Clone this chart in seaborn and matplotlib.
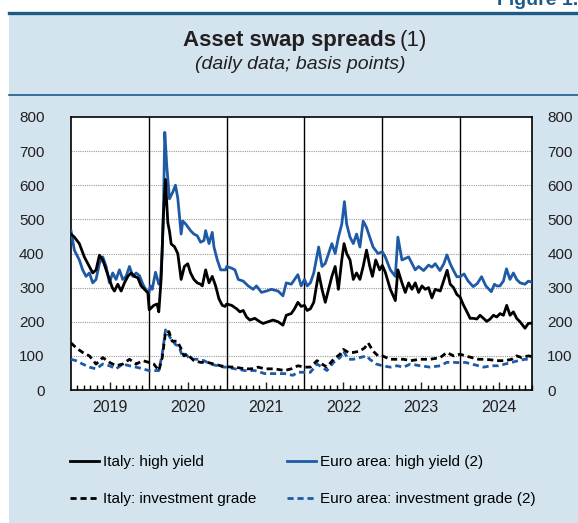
"""Asset swap spreads - Italy vs euro area"""
import matplotlib
matplotlib.use("Agg")
import pandas as pd
import matplotlib.pyplot as plt
import seaborn as sns
from matplotlib.lines import Line2D
from matplotlib.patches import Rectangle

# dates as decimal years, values in basis points
it_hy_t = [
    2019.000, 2019.043, 2019.107, 2019.171, 2019.236, 2019.279, 2019.322, 2019.365, 2019.408, 2019.451,
    2019.494, 2019.530, 2019.558, 2019.601, 2019.644, 2019.687, 2019.730, 2019.773, 2019.815, 2019.858,
    2019.901, 2019.944, 2019.987,
    2020.005, 2020.064, 2020.107, 2020.128, 2020.158, 2020.188, 2020.214, 2020.244, 2020.265, 2020.287,
    2020.329, 2020.372, 2020.415, 2020.457, 2020.500, 2020.536, 2020.579, 2020.622, 2020.665, 2020.687,
    2020.730, 2020.773, 2020.815, 2020.858, 2020.901, 2020.944, 2020.980,
    2021.000, 2021.064, 2021.128, 2021.170, 2021.213, 2021.255, 2021.298, 2021.362, 2021.426, 2021.468,
    2021.532, 2021.596, 2021.660, 2021.723, 2021.766, 2021.830, 2021.872, 2021.915, 2021.957,
    2022.000, 2022.034, 2022.076, 2022.119, 2022.182, 2022.225, 2022.267, 2022.309, 2022.352, 2022.394,
    2022.436, 2022.479, 2022.508, 2022.542, 2022.585, 2022.627, 2022.669, 2022.712, 2022.754, 2022.797,
    2022.839, 2022.873, 2022.915, 2022.966,
    2023.000, 2023.038, 2023.103, 2023.167, 2023.200, 2023.252, 2023.295, 2023.338, 2023.380, 2023.423,
    2023.466, 2023.509, 2023.551, 2023.594, 2023.637, 2023.679, 2023.744, 2023.790, 2023.833, 2023.872,
    2023.915, 2023.957,
    2024.000, 2024.040, 2024.085, 2024.128, 2024.171, 2024.214, 2024.256, 2024.299, 2024.342, 2024.385,
    2024.427, 2024.470, 2024.513, 2024.556, 2024.598, 2024.641, 2024.684, 2024.726, 2024.769, 2024.833,
    2024.876, 2024.920,
]
it_hy = [
    457, 448, 429, 390, 362, 343, 352, 395, 381, 352, 324, 300, 290, 310, 290, 314, 333, 343, 333, 329,
    305, 295, 285,
    235, 248, 252, 229, 325, 515, 617, 490, 466, 428, 420, 400, 324, 362, 370, 343, 324, 314, 310, 305,
    352, 314, 333, 305, 267, 248, 245,
    252, 248, 238, 229, 233, 214, 205, 210, 200, 195, 200, 205, 200, 190, 219, 224, 238, 257, 245,
    248, 233, 238, 257, 343, 295, 257, 295, 333, 362, 295, 381, 429, 400, 381, 324, 343, 324, 362, 410,
    362, 333, 381, 352,
    365, 345, 295, 262, 352, 314, 286, 314, 295, 314, 286, 305, 295, 300, 270, 295, 290, 322, 351, 310,
    300, 280,
    272, 250, 230, 210, 210, 208, 219, 210, 201, 208, 219, 214, 224, 219, 248, 219, 229, 210, 200, 181,
    195, 196,
]

ea_hy_t = [
    2019.000, 2019.043, 2019.107, 2019.150, 2019.193, 2019.236, 2019.279, 2019.322, 2019.365, 2019.408,
    2019.451, 2019.494, 2019.536, 2019.579, 2019.622, 2019.665, 2019.708, 2019.751, 2019.794, 2019.837,
    2019.880, 2019.923, 2019.966,
    2020.000, 2020.020, 2020.043, 2020.086, 2020.129, 2020.150, 2020.171, 2020.188, 2020.205, 2020.231,
    2020.265, 2020.308, 2020.342, 2020.372, 2020.415, 2020.436, 2020.479, 2020.536, 2020.579, 2020.622,
    2020.665, 2020.708, 2020.730, 2020.773, 2020.815, 2020.837, 2020.880, 2020.923, 2020.987,
    2021.000, 2021.064, 2021.106, 2021.149, 2021.213, 2021.277, 2021.340, 2021.383, 2021.447, 2021.511,
    2021.574, 2021.660, 2021.723, 2021.766, 2021.830, 2021.872, 2021.915, 2021.957,
    2022.000, 2022.034, 2022.076, 2022.119, 2022.182, 2022.225, 2022.267, 2022.309, 2022.352, 2022.394,
    2022.436, 2022.479, 2022.513, 2022.542, 2022.585, 2022.627, 2022.669, 2022.712, 2022.754, 2022.797,
    2022.839, 2022.881, 2022.945,
    2023.000, 2023.038, 2023.103, 2023.167, 2023.200, 2023.252, 2023.338, 2023.380, 2023.423, 2023.466,
    2023.530, 2023.594, 2023.637, 2023.680, 2023.740, 2023.790, 2023.830, 2023.872, 2023.915, 2023.957,
    2024.000, 2024.050, 2024.100, 2024.167, 2024.220, 2024.275, 2024.330, 2024.400, 2024.440, 2024.470,
    2024.510, 2024.555, 2024.595, 2024.640, 2024.684, 2024.726, 2024.770, 2024.833, 2024.876, 2024.920,
]
ea_hy = [
    467, 410, 381, 352, 333, 343, 314, 324, 371, 390, 362, 314, 343, 324, 352, 324, 333, 362, 333, 343,
    335, 310, 292,
    285, 305, 295, 345, 310, 320, 405, 530, 755, 655, 560, 580, 600, 562, 457, 495, 485, 467, 457, 452,
    433, 438, 467, 429, 462, 419, 381, 352, 352,
    362, 357, 352, 324, 319, 305, 295, 305, 286, 290, 295, 290, 276, 314, 310, 324, 338, 305,
    324, 305, 314, 343, 419, 362, 371, 400, 429, 400, 448, 486, 552, 486, 448, 429, 457, 419, 495, 476,
    448, 419, 400,
    405, 390, 352, 333, 448, 381, 390, 371, 352, 362, 350, 366, 360, 370, 350, 370, 396, 370, 350, 332,
    332, 340, 320, 303, 312, 332, 305, 288, 310, 305, 305, 319, 355, 324, 343, 324, 314, 310, 319, 316,
]

it_ig_t = [
    2019.000, 2019.064, 2019.150, 2019.236, 2019.322, 2019.408, 2019.494, 2019.579, 2019.665, 2019.751,
    2019.837, 2019.923,
    2020.000, 2020.064, 2020.129, 2020.172, 2020.215, 2020.258, 2020.300, 2020.365, 2020.408, 2020.451,
    2020.494, 2020.579, 2020.665, 2020.751, 2020.837, 2020.923,
    2021.000, 2021.106, 2021.234, 2021.319, 2021.404, 2021.489, 2021.617, 2021.745, 2021.830, 2021.915,
    2022.000, 2022.076, 2022.161, 2022.225, 2022.288, 2022.373, 2022.458, 2022.500, 2022.564, 2022.627,
    2022.712, 2022.775, 2022.818, 2022.881, 2022.945,
    2023.000, 2023.103, 2023.188, 2023.274, 2023.359, 2023.487, 2023.615, 2023.744, 2023.829, 2023.915,
    2024.000, 2024.064, 2024.150, 2024.235, 2024.320, 2024.406, 2024.491, 2024.577, 2024.662, 2024.726,
    2024.790, 2024.876, 2024.920,
]
it_ig = [
    138, 124, 110, 100, 76, 95, 81, 71, 76, 90, 76, 86,
    81, 76, 57, 95, 171, 171, 143, 143, 124, 100, 105, 86, 81, 81, 76, 71,
    68, 67, 62, 62, 67, 62, 62, 57, 62, 71,
    67, 67, 86, 76, 67, 90, 105, 119, 110, 110, 114, 124, 138, 114, 100,
    100, 90, 90, 90, 86, 90, 90, 95, 110, 100,
    105, 100, 95, 90, 90, 88, 86, 86, 90, 100, 95, 100, 98,
]

ea_ig_t = [
    2019.000, 2019.064, 2019.150, 2019.236, 2019.322, 2019.408, 2019.494, 2019.579, 2019.665, 2019.751,
    2019.837, 2019.923,
    2020.000, 2020.064, 2020.129, 2020.172, 2020.215, 2020.279, 2020.343, 2020.386, 2020.429, 2020.472,
    2020.536, 2020.622, 2020.708, 2020.794, 2020.880, 2020.966,
    2021.000, 2021.106, 2021.234, 2021.362, 2021.489, 2021.617, 2021.745, 2021.851, 2021.915,
    2022.000, 2022.076, 2022.161, 2022.225, 2022.288, 2022.373, 2022.458, 2022.500, 2022.564, 2022.627,
    2022.712, 2022.797, 2022.839, 2022.924,
    2023.000, 2023.103, 2023.188, 2023.274, 2023.359, 2023.487, 2023.615, 2023.744, 2023.829, 2023.915,
    2024.000, 2024.064, 2024.150, 2024.235, 2024.299, 2024.406, 2024.491, 2024.577, 2024.662, 2024.748,
    2024.833, 2024.876, 2024.920,
]
ea_ig = [
    90, 86, 76, 67, 62, 76, 71, 62, 76, 71, 67, 62,
    57, 57, 57, 105, 176, 152, 133, 129, 100, 105, 90, 90, 86, 76, 71, 67,
    67, 62, 57, 57, 48, 48, 48, 43, 52,
    52, 52, 76, 67, 57, 81, 95, 114, 90, 90, 95, 100, 90, 76,
    71, 67, 71, 67, 76, 71, 67, 71, 81, 81,
    80, 81, 76, 71, 67, 71, 71, 76, 81, 86, 90, 90, 90,
]

years = [2019, 2020, 2021, 2022, 2023, 2024]
labels = [
    "Italy: high yield",
    "Italy: investment grade",
    "Euro area: high yield (2)",
    "Euro area: investment grade (2)",
]

BLUE = "#1f5aa6"
PANEL = "#d3e4ef"
DARK = "#1d5b86"
DASH = (0, (2.2, 1.4))

plt.rcParams["font.family"] = ["Liberation Sans", "DejaVu Sans"]

W, H = 578, 523
fig = plt.figure(figsize=(W / 100, H / 100), dpi=100)
fig.patch.set_facecolor("white")

# light blue panel and the two rules of the header
fig.add_artist(Rectangle((9 / W, 0), 1, 1 - 12 / H, transform=fig.transFigure,
                         facecolor=PANEL, edgecolor="none", zorder=0))
fig.add_artist(Line2D([9 / W, 1], [1 - 13 / H] * 2, color=DARK, lw=2.4))
fig.add_artist(Line2D([9 / W, 1], [1 - 95 / H] * 2, color=DARK, lw=1.2))

# page label, cut by the top edge as in the source
fig.text(1.0, 1 - 5 / H, "Figure 1.", ha="right", va="baseline",
         color=DARK, fontsize=14, fontweight="bold")
fig.text(396 / W, 1 - 46 / H, "Asset swap spreads", ha="right", va="baseline",
         fontsize=16, fontweight="bold", color="#231f20")
fig.text(400 / W, 1 - 46 / H, "(1)", ha="left", va="baseline",
         fontsize=16, color="#231f20")
fig.text(300 / W, 1 - 69 / H, "(daily data; basis points)", ha="center", va="baseline",
         fontsize=14, fontstyle="italic", color="#231f20")

ax = fig.add_axes([71 / W, 133 / H, 461 / W, 273 / H])
ax.set_facecolor("white")

series = [
    (ea_ig_t, ea_ig, BLUE, DASH),
    (it_ig_t, it_ig, "black", DASH),
    (ea_hy_t, ea_hy, BLUE, "-"),
    (it_hy_t, it_hy, "black", "-"),
]
for t, v, col, ls in series:
    df = pd.DataFrame({"t": t, "v": v})
    sns.lineplot(data=df, x="t", y="v", ax=ax, color=col, linestyle=ls,
                 lw=2.0, estimator=None, sort=False, legend=False, zorder=3)

for v in range(100, 800, 100):
    ax.axhline(v, color="#9a9a9a", lw=0.8, ls=(0, (1, 1)), zorder=1)
for y in years[1:]:
    ax.axvline(y, color="black", lw=1.0, zorder=2)

x_end = 2024.923
ax.set_xlim(2019.0, x_end)
ax.set_ylim(0, 800)
ax.set_xlabel("")
ax.set_ylabel("")

ax.set_xticks([y + 0.5 for y in years])
ax.set_xticklabels([str(y) for y in years])
ax.set_xticks([y + m / 12 for y in years for m in range(1, 12)
               if m != 6 and y + m / 12 < x_end], minor=True)
ax.tick_params(axis="x", which="major", direction="in", length=6, width=1,
               pad=7, labelsize=11.5, colors="#231f20")
ax.tick_params(axis="x", which="minor", direction="in", length=3.5, width=1)

yt = list(range(0, 801, 100))
ax.set_yticks(yt)
ax.tick_params(axis="y", length=0, pad=19, labelsize=11, labelcolor="#231f20")
for s in ax.spines.values():
    s.set_color("black")
    s.set_linewidth(1.2)

ax2 = ax.twinx()
ax2.set_ylim(0, 800)
ax2.set_yticks(yt)
ax2.tick_params(axis="y", length=0, pad=11, labelsize=11, labelcolor="#231f20")
for s in ax2.spines.values():
    s.set_visible(False)

handles = [
    Line2D([], [], color="black", lw=2.0),
    Line2D([], [], color="black", lw=2.0, ls=DASH),
    Line2D([], [], color=BLUE, lw=2.0),
    Line2D([], [], color=BLUE, lw=2.0, ls=DASH),
]
fig.legend(handles, labels, ncol=2, loc="upper left",
           bbox_to_anchor=(70 / W, 1 - 455 / H), frameon=False, fontsize=11,
           handlelength=1.9, handletextpad=0.25, columnspacing=2.0,
           labelspacing=1.5, borderaxespad=0, borderpad=0)

fig.savefig("out.png", dpi=100)
plt.close(fig)
